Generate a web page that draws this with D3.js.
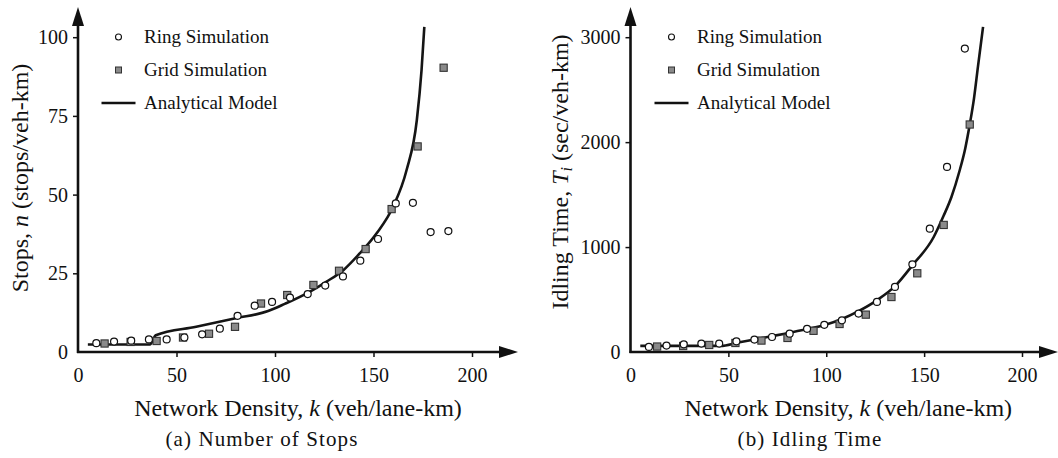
<!DOCTYPE html>
<html><head><meta charset="utf-8">
<script src="https://cdn.jsdelivr.net/npm/d3@7"></script>
<style>
body{margin:0;background:#fff}
svg{display:block}
svg text{font-family:"Liberation Serif","Times New Roman",serif !important;fill:#111}
</style></head><body>
<svg id="c" width="1058" height="458" font-family="Liberation Serif"></svg>
<script>
// ---- Data (a) Number of Stops ----
const ringK_a = [9.3,18.3,27,36,45,54,63,72,81,89.7,98.5,107.6,116.6,125.5,134.5,143.3,152.3,161.3,170,179,188];
const ringN_a = [2.8,3.3,3.6,4.0,4.0,4.6,5.6,7.4,11.5,14.7,15.9,17.3,18.4,21.1,24.0,29.0,35.9,47.2,47.4,38.1,38.4];
const gridK_a = [13.5,26.7,39.9,53.3,66.5,79.7,92.9,106.2,119.5,132.5,146,159.2,172.4,185.6];
const gridN_a = [2.7,3.2,3.5,4.6,5.8,8.0,15.4,18.1,21.3,25.8,32.7,45.4,65.3,90.3];
const modelK_a = [5,36.5,39.5,60,80,96.5,105,117.8,126,134.7,143,151.6,160,166.8,172,174.4,175.8];
const modelN_a = [2.4,2.4,5.3,8.0,10.7,13.0,15.3,19.2,22.3,26,31.3,37.7,46.2,57.8,73.7,89.6,103.3];
const yTicks_a = [0,25,50,75,100];

// ---- Data (b) Idling Time ----
const ringK_b = [9.4,18.4,27.2,36.2,45.3,54.1,63.3,72.3,81.3,90.2,99,108,116.5,125.9,135.1,144,152.9,161.7,170.8];
const ringT_b = [48,61,73,80,80,102,118,143,175,221,259,302,366,477,620,836,1175,1764,2892];
const gridK_b = [13.6,26.9,40.2,53.6,66.9,80.2,93.5,106.8,120.2,133.3,146.5,160,173.3];
const gridT_b = [52,57,67,86,109,134,202,267,356,524,750,1211,2168];
const modelK_b = [5,46,55,70,88,100,108,116,126,135,144,154.9,160,164,168,171,173.3,175.5,177.5,180.1];
const modelT_b = [58,58,90,143,210,262,315,385,495,625,826,1096,1300,1480,1720,1940,2168,2420,2720,3098];
const yTicks_b = [0,1000,2000,3000];

const xTicks = [0,50,100,150,200];
const legendLabels = ["Ring Simulation","Grid Simulation","Analytical Model"];

const FONT = "Liberation Serif";
const svg = d3.select("#c");

function panel(o){
  const g = svg.append("g");
  const x = d3.scaleLinear().domain([0,200]).range([o.x0, o.x200]);
  const y = d3.scaleLinear().domain([0,o.ymax]).range([352, 37.2]);
  const axisEndX = o.xTip, axisTopY = 7;

  g.append("line").attr("x1",x(0)-1).attr("x2",axisEndX-14).attr("y1",y(0)).attr("y2",y(0))
    .attr("stroke","#111").attr("stroke-width",2.6);
  g.append("line").attr("x1",x(0)).attr("x2",x(0)).attr("y1",y(0)+1).attr("y2",axisTopY+14)
    .attr("stroke","#111").attr("stroke-width",2.6);
  g.append("path").attr("d",`M${axisEndX},${y(0)} L${axisEndX-19},${y(0)-6} L${axisEndX-19},${y(0)+6} Z`).attr("fill","#111");
  g.append("path").attr("d",`M${x(0)},${axisTopY} L${x(0)-6},${axisTopY+19} L${x(0)+6},${axisTopY+19} Z`).attr("fill","#111");

  const ya = g.append("g").attr("transform",`translate(${x(0)},0)`)
    .call(d3.axisLeft(y).tickValues(o.yTicks).tickSize(5).tickPadding(5).tickFormat(d3.format("d")));
  ya.attr("font-family",FONT);
  ya.select(".domain").remove();
  ya.selectAll("line").attr("stroke","#111").attr("stroke-width",1.5);
  ya.selectAll("text").style("font-family",FONT).style("font-size","20px").attr("fill","#111");
  ya.selectAll(".tick").filter(d=>d===0).select("line").remove();

  const xa = g.append("g").attr("transform",`translate(0,${y(0)})`)
    .call(d3.axisBottom(x).tickValues(xTicks).tickSize(5).tickPadding(11).tickFormat(d3.format("d")));
  xa.attr("font-family",FONT);
  xa.select(".domain").remove();
  xa.selectAll("line").attr("stroke","#111").attr("stroke-width",1.5);
  xa.selectAll("text").style("font-family",FONT).style("font-size","20px").attr("fill","#111");
  xa.selectAll(".tick").filter(d=>d===0).select("line").remove();

  const line = d3.line().x(d=>x(d[0])).y(d=>y(d[1])).curve(d3.curveMonotoneX);
  g.append("path").datum(o.mk.map((k,i)=>[k,o.mv[i]]))
    .attr("d",line).attr("fill","none").attr("stroke","#151515").attr("stroke-width",2.6);

  g.selectAll("rect.grid").data(o.gk.map((k,i)=>[k,o.gv[i]])).enter().append("rect")
    .attr("x",d=>x(d[0])-3.6).attr("y",d=>y(d[1])-3.6).attr("width",7.2).attr("height",7.2)
    .attr("fill","#8a8a8a").attr("stroke","#333").attr("stroke-width",1.1);
  g.selectAll("circle.ring").data(o.rk.map((k,i)=>[k,o.rv[i]])).enter().append("circle")
    .attr("cx",d=>x(d[0])).attr("cy",d=>y(d[1])).attr("r",3.5)
    .attr("fill","#fff").attr("stroke","#111").attr("stroke-width",1.2);

  const lg = g.append("g");
  const lx = o.legX;
  lg.append("circle").attr("cx",lx).attr("cy",37).attr("r",3).attr("fill","#fff").attr("stroke","#111").attr("stroke-width",1.1);
  lg.append("rect").attr("x",lx-3).attr("y",67).attr("width",6).attr("height",6).attr("fill","#8a8a8a").attr("stroke","#333").attr("stroke-width",1);
  lg.append("line").attr("x1",lx-17).attr("x2",lx+17).attr("y1",103).attr("y2",103).attr("stroke","#111").attr("stroke-width",2.6);
  legendLabels.forEach((t,i)=>{
    lg.append("text").attr("x",lx+25.5).attr("y",37+33*i).attr("dy","0.33em")
      .style("font-family",FONT).style("font-size","19px").text(t);
  });

  const xt = g.append("text").attr("x",(x(0)+axisEndX)/2+o.xtShift).attr("y",416).attr("text-anchor","middle")
    .style("font-family",FONT).style("font-size","24px");
  xt.append("tspan").text("Network Density, ");
  xt.append("tspan").style("font-style","italic").text("k");
  xt.append("tspan").text(" (veh/lane-km)");

  const yt = g.append("text").attr("transform",`translate(${o.ytX},${o.ytY}) rotate(-90)`).attr("text-anchor","middle")
    .style("font-family",FONT).style("font-size","24px");
  o.yTitle(yt);

  g.append("text").attr("x",o.capX).attr("y",446).attr("text-anchor","middle")
    .style("font-family",FONT).style("font-size","21px").style("letter-spacing","1.1px").text(o.caption);
}

panel({x0:78,x200:472,xTip:518,ymax:100,yTicks:yTicks_a,
  rk:ringK_a,rv:ringN_a,gk:gridK_a,gv:gridN_a,mk:modelK_a,mv:modelN_a,
  legX:118.5,xtShift:0,ytX:28,ytY:178,capX:262,caption:"(a) Number of Stops",
  yTitle:t=>{t.append("tspan").text("Stops, ");t.append("tspan").style("font-style","italic").text("n");t.append("tspan").text(" (stops/veh-km)");}
});
panel({x0:630.5,x200:1022,xTip:1058,ymax:3000,yTicks:yTicks_b,
  rk:ringK_b,rv:ringT_b,gk:gridK_b,gv:gridT_b,mk:modelK_b,mv:modelT_b,
  legX:671.5,xtShift:4,ytX:568,ytY:172,capX:810,caption:"(b) Idling Time",
  yTitle:t=>{t.append("tspan").text("Idling Time, ");t.append("tspan").style("font-style","italic").text("T");
    t.append("tspan").style("font-style","italic").style("font-size","16px").attr("dy","4").text("i");
    t.append("tspan").attr("dy","-4").text(" (sec/veh-km)");}
});
</script>
</body></html>
